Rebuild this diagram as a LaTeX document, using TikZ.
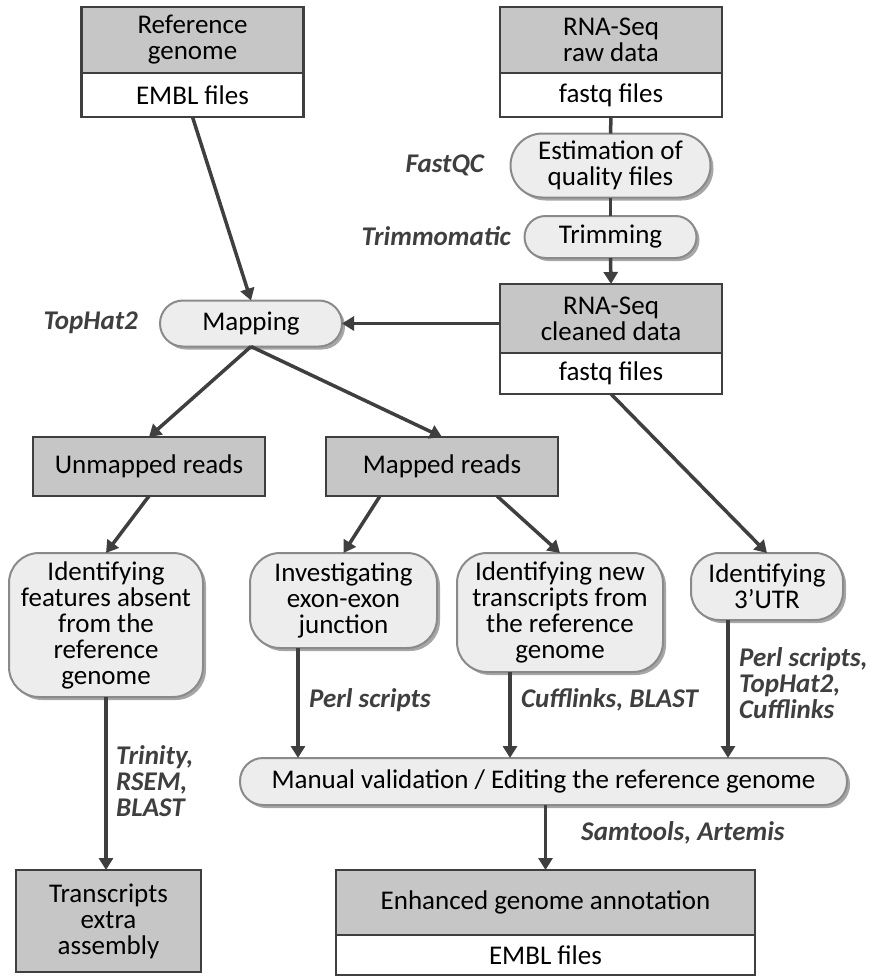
\documentclass[tikz,border=0pt]{standalone}
\usepackage{fontspec}
\setmainfont{Carlito}
\usetikzlibrary{positioning,calc,arrows.meta,shadows}
\definecolor{hdrgray}{HTML}{C6C6C6}
\definecolor{procfill}{HTML}{EDEDED}
\definecolor{procline}{HTML}{8A8A8A}
\definecolor{darkline}{HTML}{3F3F3F}
\newcommand{\tool}[4]{\node[tool, anchor=#2] (#1) at (#3) {#4};}
\newcommand{\down}[1]{\draw[arr] (#1) -- (#1 |- manual.north);}

\begin{document}
\begin{tikzpicture}[x=1pt,y=-1pt,
  txt/.style={font=\fontsize{27}{26}\selectfont, align=center, inner sep=0pt, outer sep=0pt},
  hdr/.style={txt, draw=darkline, fill=hdrgray, line width=2.5pt},
  files/.style={txt, draw=darkline, fill=white, line width=2.5pt},
  proc/.style={txt, draw=procline, fill=procfill, line width=2pt,
    drop shadow={shadow xshift=3pt, shadow yshift=-3pt, fill=black, opacity=0.35}},
  tool/.style={font=\fontsize{27}{26}\bfseries\itshape\selectfont, text=darkline, align=left, inner sep=0pt},
  arr/.style={-{Triangle[length=12pt,width=14pt]}, line width=3.5pt, draw=darkline},
  link/.style={line width=3.5pt, draw=darkline}]

  \useasboundingbox (0,0) rectangle (869,978);

  % Inputs
  % ------

  \node[hdr, minimum width=222pt, minimum height=66pt] (refhd) at (192.5,40) {Reference\\genome};
  \node[files, minimum width=222pt, minimum height=44pt, below=0pt of refhd] (reffl) {EMBL files};

  \node[hdr, minimum width=222pt, minimum height=66pt] (rawhd) at (611,40) {RNA-Seq\\raw data};
  \node[files, minimum width=222pt, minimum height=44pt, below=0pt of rawhd] (rawfl) {fastq files};

  % Cleaning
  % --------

  \node[proc, minimum width=200pt, minimum height=64pt, rounded corners=32pt] (qual) at (610.5,165.5) {Estimation of\\quality files};
  \node[proc, minimum width=172pt, minimum height=42pt, rounded corners=21pt] (trim) at (610.5,237) {Trimming};

  \node[hdr, minimum width=222pt, minimum height=69pt] (clnhd) at (611,318.5) {RNA-Seq\\cleaned data};
  \node[files, minimum width=222pt, minimum height=41pt, below=0pt of clnhd] (clnfl) {fastq files};

  % Mapping
  % -------

  \node[proc, minimum width=182pt, minimum height=46pt, rounded corners=23pt] (map) at (251,323.5) {Mapping};

  \node[hdr, minimum width=232pt, minimum height=59pt] (unmap) at (149,466.5) {Unmapped reads};
  \node[hdr, minimum width=232pt, minimum height=59pt] (mapd) at (442,466.5) {Mapped reads};

  % Analyses
  % --------

  \node[proc, minimum width=194pt, minimum height=144pt, rounded corners=30pt] (feat) at (106,625)
    {Identifying\\features absent\\from the\\reference\\genome};
  \node[proc, minimum width=187pt, minimum height=95pt, rounded corners=30pt] (junc) at (343.5,600.5)
    {Investigating\\exon-exon\\junction};
  \node[proc, minimum width=206pt, minimum height=119pt, rounded corners=30pt] (newtr) at (560,612.5)
    {Identifying new\\transcripts from\\the reference\\genome};
  \node[proc, minimum width=152pt, minimum height=67pt, rounded corners=28pt] (utr) at (767,586.5)
    {Identifying\\3’UTR};

  \node[proc, minimum width=607pt, minimum height=47pt, rounded corners=23pt] (manual) at (543.5,781.5)
    {Manual validation / Editing the reference genome};

  % Outputs
  % -------

  \node[hdr, minimum width=185pt, minimum height=102pt] (trasm) at (108.5,921) {Transcripts\\extra\\assembly};

  \node[hdr, minimum width=419pt, minimum height=65pt] (enhd) at (545.5,902.5) {Enhanced genome annotation};
  \node[files, minimum width=419pt, minimum height=40pt, below=0pt of enhd] (enfl) {EMBL files};

  % Tools
  % -----

  \tool{fastqc}{east}{484,165}{FastQC}
  \tool{trimmo}{east}{511,236}{Trimmomatic}
  \tool{tophat}{east}{138,323}{TopHat2}
  \tool{perl}{west}{309,700}{Perl scripts}
  \tool{cuff}{west}{521,700}{Cufflinks, BLAST}
  \tool{utrtools}{west}{739,683}{Perl scripts,\\TopHat2,\\Cufflinks}
  \tool{trinity}{west}{116,781}{Trinity,\\RSEM,\\BLAST}
  \tool{samtools}{west}{581,833}{Samtools, Artemis}

  % Connectors
  % ----------

  \draw[link] (rawfl.south) -- (qual.north);
  \draw[link] (qual.south) -- (trim.north);
  \draw[arr] (trim.south) -- (clnhd.north);
  \draw[arr] (clnhd.west |- map.east) -- (map.east);
  \draw[arr] (reffl.south) -- (map.north);

  \draw[arr] (map.south) -- (unmap.north);
  \draw[arr] (map.south) -- (mapd.north);
  \draw[arr] (unmap.south) -- (feat.north);
  \draw[arr] ($(mapd.south)+(-62,0)$) -- (junc.north);
  \draw[arr] ($(mapd.south)+(55,0)$) -- (newtr.north);
  \draw[arr] (clnfl.south) -- (utr.north);

  \coordinate (juncout) at ($(junc.south)+(-45.5,0)$);
  \coordinate (newout) at ($(newtr.south)+(-50,0)$);
  \coordinate (utrout) at ($(utr.south)+(-39,0)$);
  \down{juncout}
  \down{newout}
  \down{utrout}

  \draw[arr] (enhd.north |- manual.south) -- (enhd.north);
  \draw[arr] (feat.south) -- (feat.south |- trasm.north);

\end{tikzpicture}
\end{document}
